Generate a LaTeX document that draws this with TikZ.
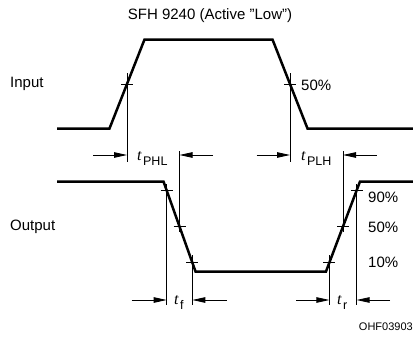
\documentclass[tikz,border=0pt]{standalone}
\usepackage{fontspec}
\setmainfont{Liberation Sans}
\newfontfamily\tserif{Liberation Serif}
\usetikzlibrary{arrows.meta}
\begin{document}
\begin{tikzpicture}[x=1pt,y=-1pt,
  wave/.style={line width=2.5pt, line join=miter},
  thinln/.style={line width=0.85pt},
  dimarrow/.style={line width=0.85pt,-{Triangle[length=13pt,width=5.5pt]}},
  lbl/.style={inner sep=0pt, font=\fontsize{15}{18}\selectfont},
  small/.style={inner sep=0pt, font=\fontsize{11}{12}\selectfont},
  tlbl/.style={inner sep=0pt, anchor=base west, font=\fontsize{16}{18}\selectfont}]
\useasboundingbox (0,0) rectangle (413,340);
\newcommand\tsub[1]{{\tserif\itshape t}\kern1.5pt\raisebox{-5pt}{\fontsize{12.5}{13}\selectfont #1}}
% title and labels
\node[lbl] (title) at (210,16) {SFH 9240 (Active \symbol{"22}Low\symbol{"22})};
\node[lbl, anchor=west] (inlbl) at (10,84) {Input};
\node[lbl, anchor=west] (outlbl) at (10,227) {Output};
\node[small, anchor=east] (code) at (413,327) {OHF03903};
% input waveform
\coordinate (i0) at (57,128.5);
\coordinate (i1) at (109.5,128.5);
\coordinate (i2) at (144.5,39.5);
\coordinate (i3) at (272.5,39.5);
\coordinate (i4) at (307.5,128.5);
\coordinate (i5) at (414,128.5);
\draw[wave] (i0) -- (i1) -- (i2) -- (i3) -- (i4) -- (i5);
% output waveform
\coordinate (o0) at (57,181.5);
\coordinate (o1) at (163.5,181.5);
\coordinate (o2) at (195.5,271.5);
\coordinate (o3) at (326,271.5);
\coordinate (o4) at (360,181.5);
\coordinate (o5) at (414,181.5);
\draw[wave] (o0) -- (o1) -- (o2) -- (o3) -- (o4) -- (o5);
% crossing points
\coordinate (ia) at (127,84);
\coordinate (ib) at (290,84);
\coordinate (f90) at (166.7,190.5);
\coordinate (f50) at (179.5,226.5);
\coordinate (f10) at (192.3,262.5);
\coordinate (r10) at (329.4,262.5);
\coordinate (r50) at (343,226.5);
\coordinate (r90) at (356.6,190.5);
% ticks
\foreach \c in {ia,ib,f90,f50,f10,r10,r50,r90}
  \draw[thinln] ([xshift=-6pt]\c) -- ([xshift=6pt]\c);
% vertical reference lines
\coordinate (va1) at (127,73);   \coordinate (va2) at (127,162);
\coordinate (vb1) at (290,73);   \coordinate (vb2) at (290,162);
\coordinate (vc1) at (179.5,151); \coordinate (vc2) at (179.5,232);
\coordinate (vd1) at (343,151);  \coordinate (vd2) at (343,232);
\coordinate (ve1) at (166.7,184); \coordinate (ve2) at (166.7,305);
\coordinate (vf1) at (192.3,255); \coordinate (vf2) at (192.3,305);
\coordinate (vg1) at (329.4,255); \coordinate (vg2) at (329.4,305);
\coordinate (vh1) at (356.6,184); \coordinate (vh2) at (356.6,305);
\foreach \a/\b in {va1/va2,vb1/vb2,vc1/vc2,vd1/vd2,ve1/ve2,vf1/vf2,vg1/vg2,vh1/vh2}
  \draw[thinln] (\a) -- (\b);
% dimension arrows
\coordinate (pa0) at (93,155);   \coordinate (pa1) at (127,155);
\coordinate (pb0) at (213,155);  \coordinate (pb1) at (179.5,155);
\coordinate (pc0) at (256.7,155); \coordinate (pc1) at (290,155);
\coordinate (pd0) at (376.7,155); \coordinate (pd1) at (343,155);
\coordinate (fa0) at (131.7,300); \coordinate (fa1) at (166.7,300);
\coordinate (fb0) at (226.7,300); \coordinate (fb1) at (192.3,300);
\coordinate (ra0) at (296,300);  \coordinate (ra1) at (329.4,300);
\coordinate (rb0) at (390,300);  \coordinate (rb1) at (356.6,300);
\foreach \a/\b in {pa0/pa1,pb0/pb1,pc0/pc1,pd0/pd1,fa0/fa1,fb0/fb1,ra0/ra1,rb0/rb1}
  \draw[dimarrow] (\a) -- (\b);
% time labels
\node[tlbl] (tphl) at (137,160) {\tsub{PHL}};
\node[tlbl] (tplh) at (301,160) {\tsub{PLH}};
\node[tlbl] (tf) at (174,304) {\tsub{f}};
\node[tlbl] (tr) at (337,304) {\tsub{r}};
% percent labels
\node[lbl, anchor=west] (p50in) at (301,85) {50\%};
\node[lbl, anchor=west] (p90) at (368,197) {90\%};
\node[lbl, anchor=west] (p50) at (368,227.5) {50\%};
\node[lbl, anchor=west] (p10) at (368,262) {10\%};
\end{tikzpicture}
\end{document}
